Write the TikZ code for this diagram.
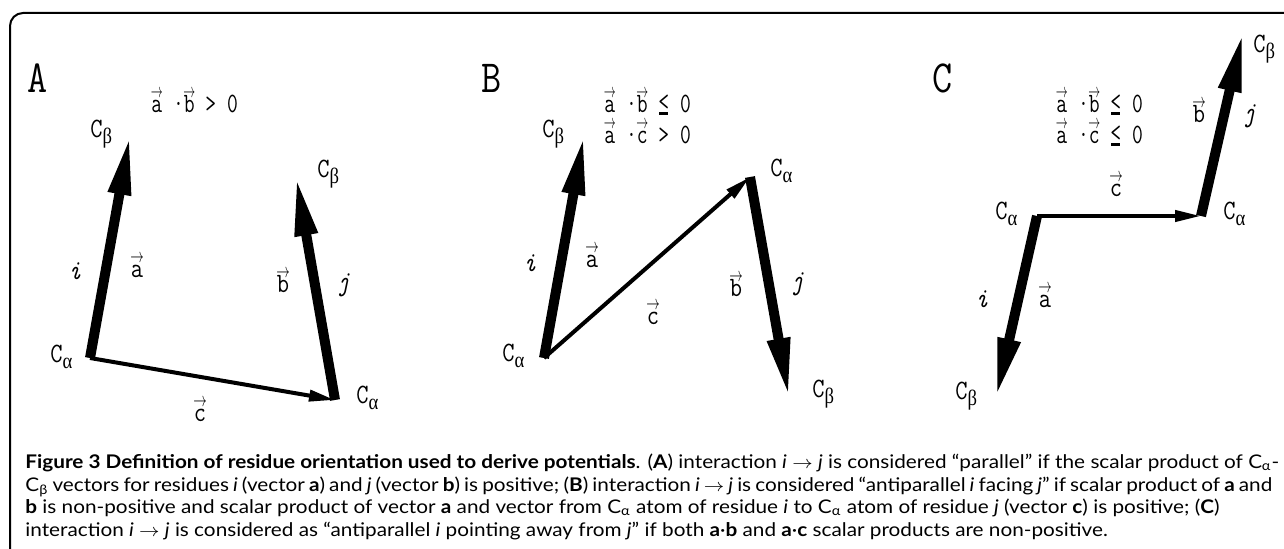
\documentclass[tikz,border=0pt]{standalone}
\usepackage{fontspec}
\setmainfont{Lato}
\newfontfamily\grkf{Liberation Serif}
\usetikzlibrary{arrows.meta}
\newcommand\monof{\ttfamily}
% vector letter with a small arrow above it
\newcommand\va[1]{\ooalign{#1\cr\hidewidth\raisebox{0.55em}{\scalebox{0.55}[0.7]{$\rightarrow$}}\hidewidth\cr}}
% "less or equal" drawn as < with a heavy underline
\newcommand\ule{\ooalign{\raisebox{1.2pt}{<}\cr\hidewidth\rule[-0.8pt]{0.42em}{1.3pt}\hidewidth\cr}}
\newcommand\Ca{C\raisebox{-3pt}{\fontsize{11pt}{11pt}\grkf α}}
\newcommand\Cb{C\raisebox{-3pt}{\fontsize{11pt}{11pt}\grkf β}}
\newcommand\sq[1]{\scalebox{0.85}[1]{#1}}
\newcommand\sqf[1]{\scalebox{0.75}[1]{#1}}
\newcommand\capA{\textbf{Figure 3 Definition of residue orientation used to derive potentials}. (\textbf{A}) interaction \textit{i} $\rightarrow$ \textit{j} is considered “parallel” if the scalar product of C\textsubscript{α}-}
\newcommand\capB{C\textsubscript{β} vectors for residues \textit{i} (vector \textbf{a}) and \textit{j} (vector \textbf{b}) is positive; (\textbf{B}) interaction \textit{i} $\rightarrow$ \textit{j} is considered “antiparallel \textit{i} facing \textit{j}” if scalar product of \textbf{a} and}
\newcommand\capC{\textbf{b} is non-positive and scalar product of vector \textbf{a} and vector from C\textsubscript{α} atom of residue \textit{i} to C\textsubscript{α} atom of residue \textit{j} (vector \textbf{c}) is positive; (\textbf{C})}
\newcommand\capD{interaction \textit{i} $\rightarrow$ \textit{j} is considered as “antiparallel \textit{i} pointing away from \textit{j}” if both \textbf{a}·\textbf{b} and \textbf{a}·\textbf{c} scalar products are non-positive.}
\newlength\capw
\begin{document}
\settowidth\capw{\fontsize{9.4pt}{12pt}\selectfont\capA}%
\pgfmathsetmacro\capx{min(1.2,max(0.7,627/\capw))}%
\pgfmathsetmacro\capBw{623.5/\capx}%
\begin{tikzpicture}[x=0.5pt,y=-0.5pt,
  bigvec/.style={line width=5pt,-{Triangle[length=30pt,width=10.5pt]}},
  smallvec/.style={line width=2pt,-{Triangle[length=13pt,width=5.5pt]}},
  lbl/.style={inner sep=0pt,font=\fontsize{14pt}{14pt}\selectfont\monof},
  panel/.style={inner sep=0pt,font=\fontsize{23pt}{23pt}\selectfont\monof},
  capline/.style={inner sep=0pt,anchor=base west,font=\fontsize{9.4pt}{12pt}\selectfont},
  frame/.style={line width=1pt,rounded corners=6.5pt}]
\fill[white] (0,0) rectangle (1284,549);
\useasboundingbox (0,0) rectangle (1284,549);
\draw[frame] (10,549) -- (10,13) -- (1284,13);

% ---------- Panel A ----------
\coordinate (Aai) at (90,358);
\coordinate (Abi) at (130,135);
\coordinate (Aaj) at (335,400);
\coordinate (Abj) at (296,176);
\draw[smallvec] (Aai) -- (Aaj);
\draw[bigvec] (Aai) -- (Abi);
\draw[bigvec] (Aaj) -- (Abj);
\node[panel,anchor=base] (Alab) at (38,93) {\sq{A}};
\node[lbl,anchor=base west] (Af) at (151,113) {\sqf{\va{a} ·\va{b} > 0}};
\node[lbl,anchor=base west] (ACbi) at (90,138) {\sq{\Cb}};
\node[lbl,anchor=base] (Ai) at (75,280) {\sq{\itshape i}};
\node[lbl,anchor=base] (Aa) at (137,278) {\sq{\va{a}}};
\node[lbl,anchor=base west] (ACai) at (50,363) {\sq{\Ca}};
\node[lbl,anchor=base] (Ac) at (200,422) {\sq{\va{c}}};
\node[lbl,anchor=base west] (ACaj) at (356,404) {\sq{\Ca}};
\node[lbl,anchor=base west] (ACbj) at (317,178) {\sq{\Cb}};
\node[lbl,anchor=base] (Ab) at (283,293) {\sq{\va{b}}};
\node[lbl,anchor=base] (Aj) at (343,291) {\sq{\itshape j}};

% ---------- Panel B ----------
\coordinate (Bai) at (544,358);
\coordinate (Bbi) at (584,135);
\coordinate (Baj) at (750,177);
\coordinate (Bbj) at (789,398);
\draw[smallvec] (Bai) -- (Baj);
\draw[bigvec] (Bai) -- (Bbi);
\draw[bigvec] (Baj) -- (Bbj);
\node[panel,anchor=base] (Blab) at (492,93) {\sq{B}};
\node[lbl,anchor=base west] (Bf1) at (604,113) {\sqf{\va{a} ·\va{b} \ule{} 0}};
\node[lbl,anchor=base west] (Bf2) at (604,144) {\sqf{\va{a} ·\va{c} > 0}};
\node[lbl,anchor=base west] (BCbi) at (542,138) {\sq{\Cb}};
\node[lbl,anchor=base] (Bi) at (530,272) {\sq{\itshape i}};
\node[lbl,anchor=base] (Ba) at (592,268) {\sq{\va{a}}};
\node[lbl,anchor=base west] (BCai) at (502,362) {\sq{\Ca}};
\node[lbl,anchor=base] (Bc) at (653,325) {\sq{\va{c}}};
\node[lbl,anchor=base west] (BCaj) at (770,177) {\sq{\Ca}};
\node[lbl,anchor=base] (Bb) at (736,297) {\sq{\va{b}}};
\node[lbl,anchor=base] (Bj) at (797,290) {\sq{\itshape j}};
\node[lbl,anchor=base west] (BCbj) at (812,398) {\sq{\Cb}};

% ---------- Panel C ----------
\coordinate (Cai) at (1037,216);
\coordinate (Cbi) at (996,398);
\coordinate (Caj) at (1201,216);
\coordinate (Cbj) at (1243,32);
\draw[smallvec] (Cai) -- (Caj);
\draw[bigvec] (Cai) -- (Cbi);
\draw[bigvec] (Caj) -- (Cbj);
\node[panel,anchor=base] (Clab) at (943,93) {\sq{C}};
\node[lbl,anchor=base west] (Cf1) at (1056,113) {\sqf{\va{a} ·\va{b} \ule{} 0}};
\node[lbl,anchor=base west] (Cf2) at (1056,144) {\sqf{\va{a} ·\va{c} \ule{} 0}};
\node[lbl,anchor=base] (Cc) at (1116,197) {\sq{\va{c}}};
\node[lbl,anchor=base west] (CCai) at (995,220) {\sq{\Ca}};
\node[lbl,anchor=base] (Ci) at (982,308) {\sq{\itshape i}};
\node[lbl,anchor=base] (Ca) at (1045,308) {\sq{\va{a}}};
\node[lbl,anchor=base west] (CCbi) at (955,400) {\sq{\Cb}};
\node[lbl,anchor=base west] (CCaj) at (1223,220) {\sq{\Ca}};
\node[lbl,anchor=base] (Cb) at (1199,123) {\sq{\va{b}}};
\node[lbl,anchor=base] (Cj) at (1249,122) {\sq{\itshape j}};
\node[lbl,anchor=base west] (CCbj) at (1253,53) {\sq{\Cb}};

% ---------- Caption ----------
\node[capline] (cap1) at (25,469) {\scalebox{\capx}[1]{\capA}};
\node[capline] (cap2) at (25,491.5) {\scalebox{\capx}[1]{\makebox[\capBw pt][s]{\capB}}};
\node[capline] (cap3) at (25,514) {\scalebox{\capx}[1]{\capC}};
\node[capline] (cap4) at (25,536.5) {\scalebox{\capx}[1]{\capD}};
\end{tikzpicture}
\end{document}
